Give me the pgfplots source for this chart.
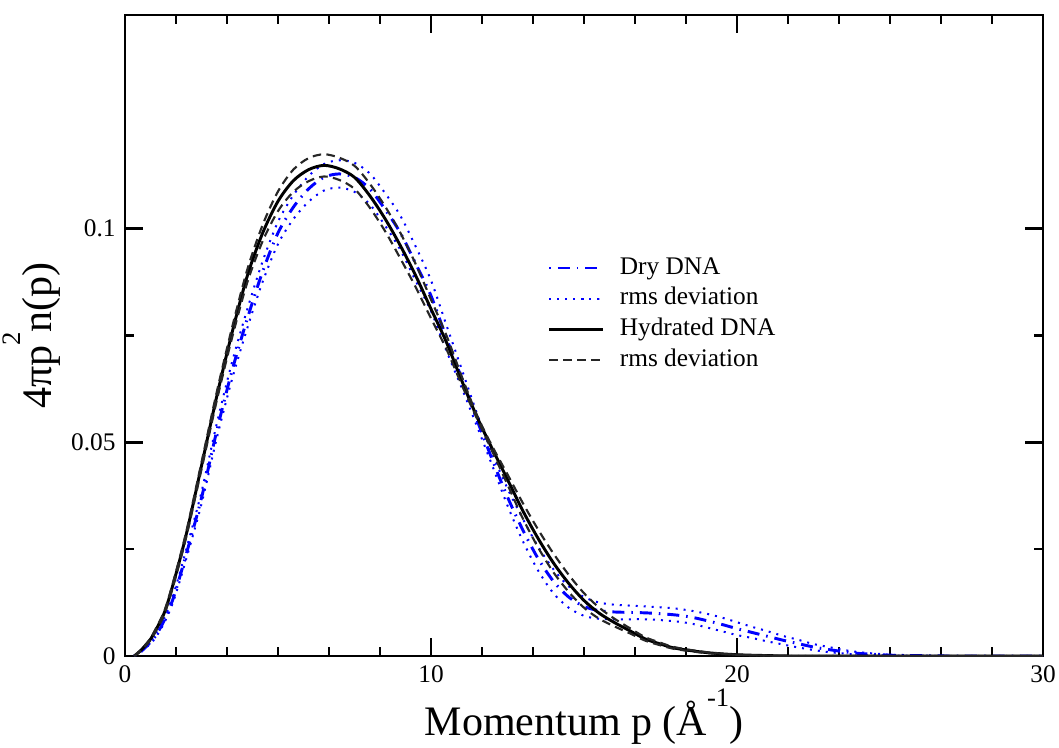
\documentclass[border=0pt]{standalone}
\usepackage{fontspec}
\setmainfont{Liberation Serif}
\usepackage{pgfplots}
\pgfplotsset{compat=1.18}
\usepackage{pgfplotstable}

\pgfplotstableread{
p H HU HL
0.3 0 0 0
0.5 0.0012 0.0013 0.0011
0.8 0.0036 0.0038 0.0034
1.0 0.0060 0.0063 0.0057
1.3 0.0104 0.0108 0.0100
1.6 0.0175 0.0180 0.0170
2.0 0.0284 0.0290 0.0278
2.5 0.0445 0.0453 0.0437
3.0 0.0608 0.0618 0.0598
3.5 0.0757 0.0769 0.0745
4.0 0.0890 0.0905 0.0875
4.5 0.0990 0.1009 0.0971
5.0 0.1064 0.1087 0.1041
5.5 0.1112 0.1138 0.1086
6.0 0.1138 0.1165 0.1111
6.5 0.1148 0.1174 0.1122
7.0 0.1140 0.1166 0.1114
7.5 0.1120 0.1147 0.1093
8.0 0.1077 0.1105 0.1049
8.5 0.1023 0.1052 0.0994
9.0 0.0960 0.0990 0.0930
9.5 0.0890 0.0917 0.0863
10.0 0.0812 0.0834 0.0790
10.5 0.0735 0.0751 0.0719
11.0 0.0645 0.0655 0.0635
11.5 0.0560 0.0564 0.0556
12.0 0.0485 0.0491 0.0479
12.5 0.0413 0.0425 0.0401
13.0 0.0340 0.0358 0.0322
13.5 0.0275 0.0296 0.0254
14.0 0.0218 0.0240 0.0196
14.5 0.0170 0.0190 0.0150
15.0 0.0130 0.0147 0.0113
15.5 0.0100 0.0113 0.0087
16.0 0.0078 0.0087 0.0069
16.5 0.0059 0.0065 0.0053
17.0 0.0040 0.0044 0.0036
17.5 0.0028 0.0031 0.0025
18.0 0.0018 0.0020 0.0016
19.0 0.0008 0.0009 0.0007
20.0 0.0003 0.0003 0.0003
21.0 0.0001 0.0001 0.0001
22.0 0 0 0
26.0 0 0 0
30.0 0 0 0
}\hyd

\pgfplotstableread{
p D DU DL
0.3 0 0 0
0.5 0.0009 0.0010 0.0008
0.8 0.0030 0.0033 0.0027
1.0 0.0047 0.0051 0.0043
1.3 0.0086 0.0092 0.0080
1.6 0.0140 0.0148 0.0132
2.0 0.0238 0.0249 0.0227
2.5 0.0370 0.0384 0.0356
3.0 0.0527 0.0544 0.0510
3.5 0.0668 0.0688 0.0648
4.0 0.0790 0.0812 0.0768
4.5 0.0900 0.0924 0.0876
5.0 0.0990 0.1016 0.0964
5.5 0.1050 0.1078 0.1022
6.0 0.1093 0.1123 0.1063
6.5 0.1120 0.1151 0.1089
7.0 0.1128 0.1160 0.1096
7.5 0.1120 0.1154 0.1086
8.0 0.1093 0.1129 0.1057
8.5 0.1045 0.1083 0.1007
9.0 0.0990 0.1030 0.0950
9.5 0.0918 0.0958 0.0878
10.0 0.0843 0.0879 0.0807
10.5 0.0745 0.0775 0.0715
11.0 0.0650 0.0672 0.0628
11.5 0.0553 0.0568 0.0538
12.0 0.0460 0.0474 0.0446
12.5 0.0372 0.0392 0.0352
13.0 0.0295 0.0321 0.0269
13.5 0.0228 0.0256 0.0200
14.0 0.0175 0.0203 0.0147
14.5 0.0138 0.0163 0.0113
15.0 0.0116 0.0138 0.0094
15.5 0.0106 0.0125 0.0087
16.0 0.0103 0.0120 0.0086
16.5 0.0102 0.0118 0.0086
17.0 0.0101 0.0116 0.0086
17.5 0.0099 0.0114 0.0084
18.0 0.0096 0.0111 0.0081
18.5 0.0091 0.0106 0.0076
19.0 0.0083 0.0099 0.0067
19.5 0.0074 0.0090 0.0058
20.0 0.0064 0.0079 0.0049
20.5 0.0055 0.0068 0.0042
21.0 0.0046 0.0058 0.0034
21.5 0.0037 0.0047 0.0027
22.0 0.0029 0.0038 0.0020
22.5 0.0021 0.0028 0.0014
23.0 0.0015 0.0021 0.0009
23.5 0.0010 0.0014 0.0006
24.0 0.0006 0.0009 0.0003
25.0 0.0002 0.0003 0.0001
26.0 0.0001 0.0001 0.0001
27.0 0 0 0
30.0 0 0 0
}\dry

\begin{document}
\begin{tikzpicture}
\useasboundingbox (-46.875pt,-34.125pt) rectangle (350.25pt,246.0pt);
\begin{axis}[
  scale only axis, width=344.25pt, height=240.4pt,
  xmin=0, xmax=30, ymin=0, ymax=0.15,
  xtick={0,10,20,30}, ytick={0,0.05,0.1},
  minor x tick num=5, minor y tick num=1,
  tick align=inside,
  axis line style={line width=1pt},
  tick style={black, line width=0.9pt},
  major tick length=6.75pt, minor tick length=3.4pt,
  ticklabel style={font=\fontsize{9.5}{11}\selectfont},
  /pgf/number format/assume math mode=true,
  yticklabel style={/pgf/number format/fixed, /pgf/number format/precision=2},
  scaled y ticks=false,
  xlabel={Momentum p (Å\raisebox{0.7em}{\fontsize{10}{12}\selectfont -1})},
  ylabel={4πp\raisebox{0.75em}{\fontsize{10}{12}\selectfont 2}n(p)},
  label style={font=\fontsize{15.75}{18}\selectfont},
  xlabel shift=-4.5pt,
  ylabel shift=-3pt,
  legend cell align=left,
  legend style={at={(0.46,0.63)}, anchor=north west, draw=none, fill=none,
    font=\fontsize{9.5}{11}\selectfont, inner sep=0pt, row sep=0pt,
    nodes={inner sep=1pt, text height=7pt, text depth=2.5pt},
    /tikz/every odd column/.append style={column sep=5pt}},
  legend image code/.code={\draw[#1] plot coordinates {(0cm,0cm) (0.35cm,0cm) (0.7cm,0cm)};},
]
\addplot[blue, line width=1.1pt, smooth, dash pattern=on 0.6pt off 2.6pt on 4.5pt off 2.6pt] table[x=p, y=D] {\dry};
\addlegendentry{Dry DNA}
\addplot[blue, line width=0.75pt, smooth, dash pattern=on 0.75pt off 2.25pt] table[x=p, y=DU] {\dry};
\addlegendentry{rms deviation}
\addplot[blue, line width=0.75pt, smooth, dash pattern=on 0.75pt off 2.25pt, forget plot] table[x=p, y=DL] {\dry};
\addplot[black, line width=1.1pt, smooth] table[x=p, y=H] {\hyd};
\addlegendentry{Hydrated DNA}
\addplot[black!85, line width=0.8pt, smooth, dash pattern=on 3.2pt off 2pt] table[x=p, y=HU] {\hyd};
\addlegendentry{rms deviation}
\addplot[black!85, line width=0.8pt, smooth, dash pattern=on 3.2pt off 2pt, forget plot] table[x=p, y=HL] {\hyd};
\end{axis}
\end{tikzpicture}
\end{document}
